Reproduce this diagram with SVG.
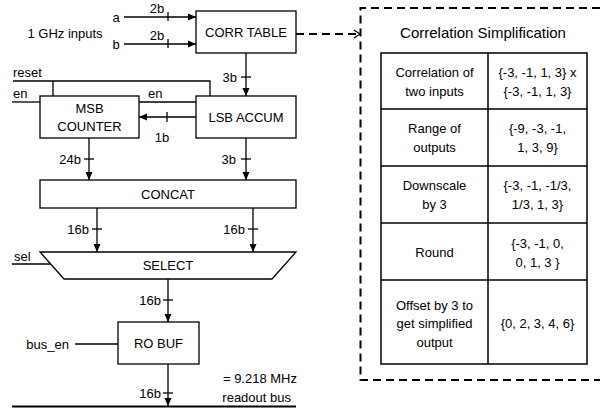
<svg xmlns="http://www.w3.org/2000/svg" width="600" height="409" viewBox="0 0 600 409">
<defs>
<marker id="ah" markerWidth="8" markerHeight="8" refX="8" refY="4" orient="auto" markerUnits="userSpaceOnUse">
<path d="M0,0.5 L8,4 L0,7.5 Z" fill="#000"/>
</marker>
<marker id="oh" markerWidth="8" markerHeight="10" refX="7" refY="5" orient="auto" markerUnits="userSpaceOnUse">
<path d="M1,1 L7,5 L1,9" fill="none" stroke="#000" stroke-width="1.3"/>
</marker>
</defs>
<style>
text{font-family:"Liberation Sans",Arial,sans-serif;font-size:13px;fill:#000}
.c{text-anchor:middle}
.e{text-anchor:end}
.box{fill:#fff;stroke:#000;stroke-width:1.3}
.w{fill:none;stroke:#000;stroke-width:1.3}
.t{font-size:15px}
</style>
<rect width="600" height="409" fill="#fff"/>

<g id="connectors">
<!-- inputs a, b -->
<line class="w" x1="124" y1="17" x2="196" y2="17" marker-end="url(#ah)"/>
<line class="w" x1="168" y1="12" x2="168" y2="21"/>
<line class="w" x1="124" y1="44" x2="196" y2="44" marker-end="url(#ah)"/>
<line class="w" x1="168" y1="39" x2="168" y2="48"/>
<!-- corr -> lsb -->
<line class="w" x1="246" y1="53" x2="246" y2="96" marker-end="url(#ah)"/>
<line class="w" x1="241" y1="77" x2="251" y2="77"/>
<!-- reset -->
<polyline class="w" points="13,81 210,81 210,96"/>
<line class="w" x1="53" y1="81" x2="53" y2="96"/>
<!-- en -->
<line class="w" x1="12" y1="102" x2="40" y2="102"/>
<line class="w" x1="139" y1="102" x2="196" y2="102"/>
<!-- lsb -> msb 1b -->
<line class="w" x1="196" y1="117" x2="139" y2="117" marker-end="url(#ah)"/>
<line class="w" x1="167" y1="112" x2="167" y2="122"/>
<!-- to concat -->
<line class="w" x1="89" y1="138" x2="89" y2="180" marker-end="url(#ah)"/>
<line class="w" x1="84" y1="159" x2="94" y2="159"/>
<line class="w" x1="246" y1="138" x2="246" y2="180" marker-end="url(#ah)"/>
<line class="w" x1="241" y1="159" x2="251" y2="159"/>
<!-- concat -> select -->
<line class="w" x1="97" y1="208" x2="97" y2="252" marker-end="url(#ah)"/>
<line class="w" x1="92" y1="229" x2="102" y2="229"/>
<line class="w" x1="253" y1="208" x2="253" y2="252" marker-end="url(#ah)"/>
<line class="w" x1="248" y1="229" x2="258" y2="229"/>
<!-- sel -->
<line class="w" x1="12" y1="264" x2="51" y2="264"/>
<!-- select -> ro buf -->
<line class="w" x1="168" y1="279" x2="168" y2="322" marker-end="url(#ah)"/>
<line class="w" x1="163" y1="300" x2="173" y2="300"/>
<!-- bus_en -->
<line class="w" x1="75" y1="344" x2="118" y2="344"/>
<!-- ro buf -> bus -->
<line class="w" x1="168" y1="364" x2="168" y2="406" marker-end="url(#ah)"/>
<line class="w" x1="163" y1="393" x2="173" y2="393"/>
<!-- readout bus -->
<line x1="12" y1="406.5" x2="296" y2="406.5" stroke="#000" stroke-width="1.8"/>
<!-- dashed link -->
<line x1="296" y1="34" x2="360" y2="34" stroke="#000" stroke-width="2" stroke-dasharray="8,5" marker-end="url(#oh)"/>
</g>

<g id="labels">
<text x="116" y="22" class="c">a</text>
<text x="116" y="49" class="c">b</text>
<text x="65" y="38" class="c">1 GHz inputs</text>
<text x="157" y="13" class="c">2b</text>
<text x="157" y="40" class="c">2b</text>
<text x="237" y="82" class="e">3b</text>
<text x="13" y="77">reset</text>
<text x="13" y="98">en</text>
<text x="148" y="98">en</text>
<text x="162" y="142" class="c">1b</text>
<text x="81" y="164" class="e">24b</text>
<text x="236" y="164" class="e">3b</text>
<text x="89" y="234" class="e">16b</text>
<text x="245" y="234" class="e">16b</text>
<text x="14" y="261">sel</text>
<text x="161" y="305" class="e">16b</text>
<text x="69" y="349" class="e">bus_en</text>
<text x="161" y="398" class="e">16b</text>
<text x="297" y="383" class="e">= 9.218 MHz</text>
<text x="291" y="402" class="e">readout bus</text>
</g>

<g id="corr-table">
<rect class="box" x="196" y="11" width="100" height="42"/>
<text x="246" y="37" class="c">CORR TABLE</text>
</g>
<g id="msb-counter">
<rect class="box" x="40" y="96" width="99" height="42"/>
<text x="89.5" y="113" class="c">MSB</text>
<text x="89.5" y="131" class="c">COUNTER</text>
</g>
<g id="lsb-accum">
<rect class="box" x="196" y="96" width="100" height="42"/>
<text x="246" y="122" class="c">LSB ACCUM</text>
</g>
<g id="concat">
<rect class="box" x="40" y="180" width="256" height="28"/>
<text x="168" y="199" class="c">CONCAT</text>
</g>
<g id="select">
<polygon class="box" points="40,252 296,252 272,279 64,279"/>
<text x="168" y="270" class="c">SELECT</text>
</g>
<g id="ro-buf">
<rect class="box" x="118" y="322" width="81" height="42"/>
<text x="158.5" y="348" class="c">RO BUF</text>
</g>

<g id="simplification">
<path d="M600,8 H360.5 V380 H600" fill="none" stroke="#000" stroke-width="2" stroke-dasharray="8,5"/>
<text x="483" y="38" class="c t">Correlation Simplification</text>
<g fill="none" stroke="#000" stroke-width="1.5">
<rect x="381" y="53" width="206" height="311"/>
<line x1="488" y1="53" x2="488" y2="364"/>
<line x1="381" y1="109" x2="587" y2="109"/>
<line x1="381" y1="166" x2="587" y2="166"/>
<line x1="381" y1="223" x2="587" y2="223"/>
<line x1="381" y1="280" x2="587" y2="280"/>
</g>
<text x="434.5" y="77" class="c">Correlation of</text>
<text x="434.5" y="96" class="c">two inputs</text>
<text x="537.5" y="77" class="c">{-3, -1, 1, 3} x</text>
<text x="537.5" y="96" class="c">{-3, -1, 1, 3}</text>
<text x="434.5" y="133" class="c">Range of</text>
<text x="434.5" y="152" class="c">outputs</text>
<text x="537.5" y="133" class="c">{-9, -3, -1,</text>
<text x="537.5" y="152" class="c">1, 3, 9}</text>
<text x="434.5" y="190" class="c">Downscale</text>
<text x="434.5" y="209" class="c">by 3</text>
<text x="537.5" y="190" class="c">{-3, -1, -1/3,</text>
<text x="537.5" y="209" class="c">1/3, 1, 3}</text>
<text x="434.5" y="257" class="c">Round</text>
<text x="537.5" y="248" class="c">{-3, -1, 0,</text>
<text x="537.5" y="267" class="c">0, 1, 3 }</text>
<text x="434.5" y="310" class="c">Offset by 3 to</text>
<text x="434.5" y="328" class="c">get simplified</text>
<text x="434.5" y="347" class="c">output</text>
<text x="537.5" y="328" class="c">{0, 2, 3, 4, 6}</text>
</g>
</svg>
